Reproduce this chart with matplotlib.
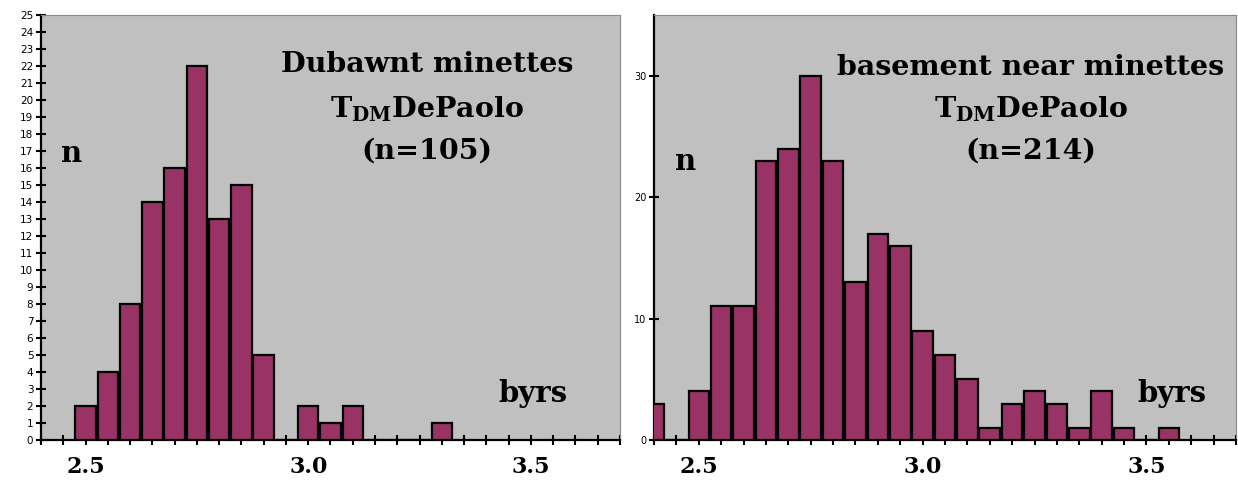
#Two histograms of T_DM DePaolo model ages (minettes and basement)

import matplotlib
matplotlib.use("Agg")
import matplotlib.pyplot as plt
import numpy as np

plt.rcParams['font.family'] = ['DejaVu Serif']
plt.rcParams['mathtext.fontset'] = 'custom'
plt.rcParams['mathtext.rm'] = 'DejaVu Serif'
plt.rcParams['mathtext.bf'] = 'DejaVu Serif:bold'

# bin centres (byrs) and counts
minette_bins = [2.50, 2.55, 2.60, 2.65, 2.70, 2.75, 2.80, 2.85, 2.90, 2.95,
                3.00, 3.05, 3.10, 3.15, 3.20, 3.25, 3.30]
minette_counts = [2, 4, 8, 14, 16, 22, 13, 15, 5, 0,
                  2, 1, 2, 0, 0, 0, 1]

basement_bins = [2.40, 2.45, 2.50, 2.55, 2.60, 2.65, 2.70, 2.75, 2.80, 2.85,
                 2.90, 2.95, 3.00, 3.05, 3.10, 3.15, 3.20, 3.25, 3.30, 3.35,
                 3.40, 3.45, 3.50, 3.55]
basement_counts = [3, 0, 4, 11, 11, 23, 24, 30, 23, 13,
                   17, 16, 9, 7, 5, 1, 3, 4, 3, 1,
                   4, 1, 0, 1]

xtick_labels = ["2.5", "3.0", "3.5"]

bar_color = "#993366"
bg_color = "#c0c0c0"


def setup_axes(ax, ymax, yticks, ylabsize):
    ax.set_facecolor(bg_color)
    ax.set_xlim(2.4, 3.7)
    ax.set_ylim(0, ymax)
    ax.set_xticks([2.5, 3.0, 3.5])
    ax.set_xticklabels(xtick_labels, fontsize=16, fontweight="bold")
    ax.set_xticks(np.arange(2.4, 3.71, 0.05), minor=True)
    ax.tick_params(axis="x", which="both", direction="inout", length=7, width=1.5, pad=8)
    ax.set_yticks(yticks)
    ax.tick_params(axis="y", which="both", direction="inout", length=7, width=1.5, pad=2,
                   labelsize=ylabsize)
    for lab in ax.get_yticklabels():
        lab.set_fontfamily("DejaVu Sans")
    ax.spines["left"].set_linewidth(1.6)
    ax.spines["bottom"].set_linewidth(1.6)
    ax.spines["top"].set_color("#888888")
    ax.spines["right"].set_color("#888888")
    ax.spines["top"].set_linewidth(0.8)
    ax.spines["right"].set_linewidth(0.8)


fig = plt.figure(figsize=(12.38, 4.8), dpi=100)
ax1 = fig.add_axes([0.0331, 0.0833, 0.4677, 0.8854])
ax2 = fig.add_axes([0.5283, 0.0833, 0.4701, 0.8854])

ax1.bar(minette_bins, minette_counts, width=0.046, color=bar_color,
        edgecolor="black", linewidth=1.6, zorder=3)
ax2.bar(basement_bins, basement_counts, width=0.046, color=bar_color,
        edgecolor="black", linewidth=1.6, zorder=3)

setup_axes(ax1, 25, range(0, 26), 7.5)
setup_axes(ax2, 35, [0, 10, 20, 30], 7)

txt = dict(fontsize=20.5, fontweight="bold", ha="center", va="baseline")
big = dict(fontsize=21, fontweight="bold", va="baseline")
sub = r"T$_{\mathregular{DM}}$DePaolo"

ax1.text(0.667, 0.866, "Dubawnt minettes", transform=ax1.transAxes, **txt)
ax1.text(0.667, 0.760, sub, transform=ax1.transAxes, **txt)
ax1.text(0.667, 0.662, "(n=105)", transform=ax1.transAxes, **txt)
ax1.text(0.035, 0.655, "n", transform=ax1.transAxes, **big)
ax1.text(0.79, 0.09, "byrs", transform=ax1.transAxes, **big)

ax2.text(0.647, 0.860, "basement near minettes", transform=ax2.transAxes, **txt)
ax2.text(0.647, 0.760, sub, transform=ax2.transAxes, **txt)
ax2.text(0.647, 0.662, "(n=214)", transform=ax2.transAxes, **txt)
ax2.text(0.036, 0.635, "n", transform=ax2.transAxes, **big)
ax2.text(0.83, 0.09, "byrs", transform=ax2.transAxes, **big)

fig.savefig("out.png", dpi=100, facecolor="white")
